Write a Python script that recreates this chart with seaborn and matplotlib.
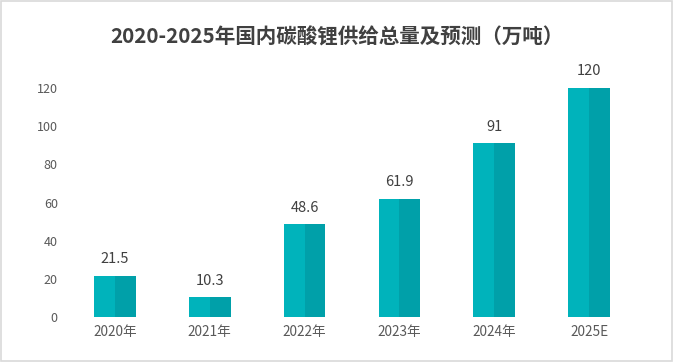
import pandas as pd
import seaborn as sns
import matplotlib.pyplot as plt
from matplotlib.patches import Rectangle

years = ['2020年', '2021年', '2022年', '2023年', '2024年', '2025E']
supply = [21.5, 10.3, 48.6, 61.9, 91, 120]

# each bar is drawn as two halves with the same value (light left, darker right)
df = pd.DataFrame({
    'year': years * 2,
    'supply': supply * 2,
    'half': ['left'] * len(years) + ['right'] * len(years),
})

sns.set_style('white')
plt.rcParams['font.family'] = ['Noto Sans CJK SC', 'DejaVu Sans']

fig = plt.figure(figsize=(6.73, 3.62), dpi=100)
ax = fig.add_axes([0.1004, 0.1243, 0.8452, 0.6326])

sns.barplot(data=df, x='year', y='supply', hue='half', dodge=True,
            palette={'left': '#00B3BB', 'right': '#00A0A9'},
            width=0.44, gap=0, saturation=1, legend=False, linewidth=0, ax=ax)

for i, v in enumerate(supply):
    ax.annotate(f'{v:g}', (i, v), xytext=(0, 12), textcoords='offset points',
                ha='center', va='center', fontsize=10.5, color='#404040',
                annotation_clip=False)

ax.set_xlim(-0.5, len(years) - 0.5)
ax.set_ylim(0, 120)
ax.set_yticks(range(0, 121, 20))
ax.set_xlabel('')
ax.set_ylabel('')
ax.tick_params(axis='both', length=0, labelsize=9, colors='#595959')
ax.tick_params(axis='x', labelsize=9.8, pad=6)
ax.tick_params(axis='y', pad=7)
for side in ['top', 'right', 'left', 'bottom']:
    ax.spines[side].set_visible(False)

fig.text(0.5, 0.898, '2020-2025年国内碳酸锂供给总量及预测（万吨）',
         ha='center', va='center', fontsize=14.8, fontweight='bold', color='#404040')

fig.patches.append(Rectangle((0.002, 0.004), 0.996, 0.992, transform=fig.transFigure,
                             fill=False, edgecolor='#D9D9D9', linewidth=1.2))

fig.savefig('out.png', dpi=100)
